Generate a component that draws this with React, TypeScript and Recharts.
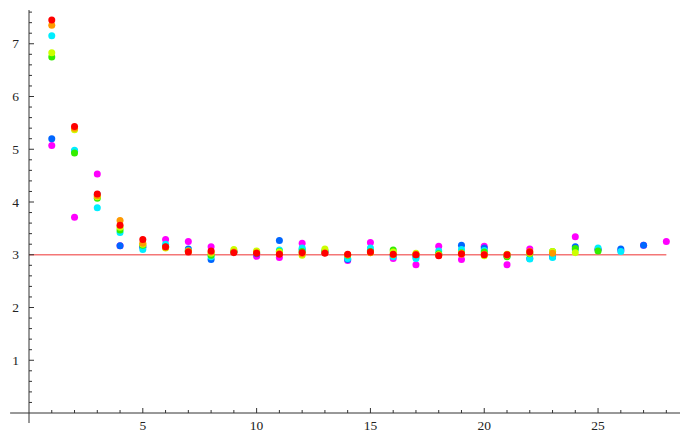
import React from 'react';
import { ScatterChart, Scatter, XAxis, YAxis, ReferenceLine } from 'recharts';

// Series values (index i -> x = i + 1)
const magentaValues = [5.07, 3.71, 4.53, 3.17, 3.15, 3.29, 3.25, 3.15, 3.06, 2.97, 2.95, 3.22, 3.05, 2.89, 3.23, 2.93, 2.81, 3.16, 2.91, 3.16, 2.81, 3.11, 2.97, 3.34, 3.10, 3.08, 3.18, 3.25];
const blueValues = [5.20, 4.96, 4.14, 3.17, 3.14, 3.16, 3.11, 2.91, 3.05, 3.02, 3.27, 3.10, 3.04, 2.91, 3.08, 2.98, 2.96, 3.01, 3.18, 3.13, 2.98, 2.93, 2.96, 3.15, 3.10, 3.11, 3.18];
const cyanValues = [7.15, 4.98, 3.89, 3.42, 3.10, 3.20, 3.08, 2.96, 3.05, 3.04, 3.09, 3.13, 3.06, 2.93, 3.13, 2.96, 2.93, 3.07, 3.10, 3.08, 2.98, 2.92, 2.95, 3.10, 3.13, 3.06];
const greenValues = [6.75, 4.93, 4.07, 3.47, 3.18, 3.14, 3.07, 2.99, 3.06, 3.05, 3.06, 3.06, 3.08, 2.99, 3.06, 3.09, 3.00, 3.02, 3.04, 3.05, 2.96, 3.02, 3.06, 3.12, 3.07];
const yellowGreenValues = [6.83, 5.37, 4.10, 3.52, 3.20, 3.13, 3.06, 3.03, 3.10, 3.07, 3.05, 2.99, 3.11, 3.00, 3.04, 3.05, 3.03, 3.00, 3.03, 2.98, 3.01, 3.03, 3.06, 3.04];
const orangeValues = [7.35, 5.40, 4.12, 3.65, 3.22, 3.14, 3.07, 3.05, 3.05, 3.04, 3.02, 3.02, 3.04, 3.00, 3.04, 3.00, 3.01, 2.99, 3.01, 3.01, 2.99, 3.06, 3.03];
const redValues = [7.45, 5.43, 4.15, 3.56, 3.29, 3.15, 3.05, 3.07, 3.04, 3.03, 3.01, 3.04, 3.03, 3.01, 3.05, 3.01, 3.00, 2.98, 3.02, 3.00, 3.00, 3.05];

const seriesColors = ['#ff00ff', '#0066ff', '#00eeff', '#33ee00', '#ccff00', '#ff9900', '#ff0000'];
const seriesValues = [magentaValues, blueValues, cyanValues, greenValues, yellowGreenValues, orangeValues, redValues];

const limitValue = 3;
const limitStart = 0;
const limitEnd = 28;

const xMajorTicks = [5, 10, 15, 20, 25];
const xTicks = [1, 2, 3, 4, 5, 6, 7, 8, 9, 10, 11, 12, 13, 14, 15, 16, 17, 18, 19, 20, 21, 22, 23, 24, 25, 26, 27, 28];
const yMajorTicks = [1, 2, 3, 4, 5, 6, 7];
const yTicks = [0.2, 0.4, 0.6, 0.8, 1, 1.2, 1.4, 1.6, 1.8, 2, 2.2, 2.4, 2.6, 2.8, 3, 3.2, 3.4, 3.6, 3.8, 4, 4.2, 4.4, 4.6, 4.8, 5, 5.2, 5.4, 5.6, 5.8, 6, 6.2, 6.4, 6.6, 6.8, 7, 7.2, 7.4, 7.6];

const AXIS = '#333';
const labelStyle: React.CSSProperties = { fontFamily: "'Liberation Serif', 'DejaVu Serif', serif", fontSize: 13.5 };

const YTick = (props: any) => {
  const { x, y, payload } = props;
  const v = payload.value;
  const major = yMajorTicks.includes(v);
  return (
    <g>
      <line x1={x} x2={x + (major ? 5 : 3)} y1={y} y2={y} stroke={AXIS} strokeWidth={1} />
      {major && (
        <text x={x - 10} y={y} textAnchor="end" dominantBaseline="central" style={labelStyle} fill="#222">
          {v}
        </text>
      )}
    </g>
  );
};

const XTick = (props: any) => {
  const { x, y, payload } = props;
  const v = payload.value;
  const major = xMajorTicks.includes(v);
  return (
    <g>
      <line x1={x} x2={x} y1={y} y2={y - (major ? 5 : 3)} stroke={AXIS} strokeWidth={1} />
      {major && (
        <text x={x} y={y + 12} textAnchor="middle" dominantBaseline="central" style={labelStyle} fill="#222">
          {v}
        </text>
      )}
    </g>
  );
};

const makeDot = (color: string) => (props: any) => {
  const { cx, cy } = props;
  if (cx == null || cy == null) return <g />;
  return <circle cx={cx} cy={cy} r={3.5} fill={color} />;
};

export default function App() {
  return (
    <div style={{ position: 'absolute', left: 0, top: 0, background: '#fff' }}>
      <ScatterChart width={681} height={436} margin={{ top: 10, right: 1, bottom: 0, left: 0 }}>
        <XAxis
          type="number"
          dataKey="x"
          domain={[0, 28.6]}
          allowDataOverflow
          ticks={xTicks}
          interval={0}
          tick={<XTick />}
          tickLine={false}
          tickSize={0}
          tickMargin={0}
          height={23}
          axisLine={{ stroke: AXIS }}
        />
        <YAxis
          type="number"
          dataKey="y"
          domain={[0, 7.64]}
          allowDataOverflow
          ticks={yTicks}
          interval={0}
          tick={<YTick />}
          tickLine={false}
          tickSize={0}
          tickMargin={0}
          width={29}
          axisLine={{ stroke: AXIS }}
        />
        <ReferenceLine
          segment={[{ x: -0.83, y: 0 }, { x: 0, y: 0 }]}
          stroke={AXIS}
          ifOverflow="visible"
        />
        <ReferenceLine
          segment={[{ x: 0, y: -0.19 }, { x: 0, y: 0 }]}
          stroke={AXIS}
          ifOverflow="visible"
        />
        <ReferenceLine
          segment={[{ x: limitStart, y: limitValue }, { x: limitEnd, y: limitValue }]}
          stroke="#f47676"
          strokeWidth={1.5}
          ifOverflow="visible"
        />
        {seriesValues.map((vals, si) => (
          <Scatter
            key={si}
            data={vals.map((y, i) => ({ x: i + 1, y }))}
            fill={seriesColors[si]}
            shape={makeDot(seriesColors[si])}
            isAnimationActive={false}
          />
        ))}
      </ScatterChart>
    </div>
  );
}
